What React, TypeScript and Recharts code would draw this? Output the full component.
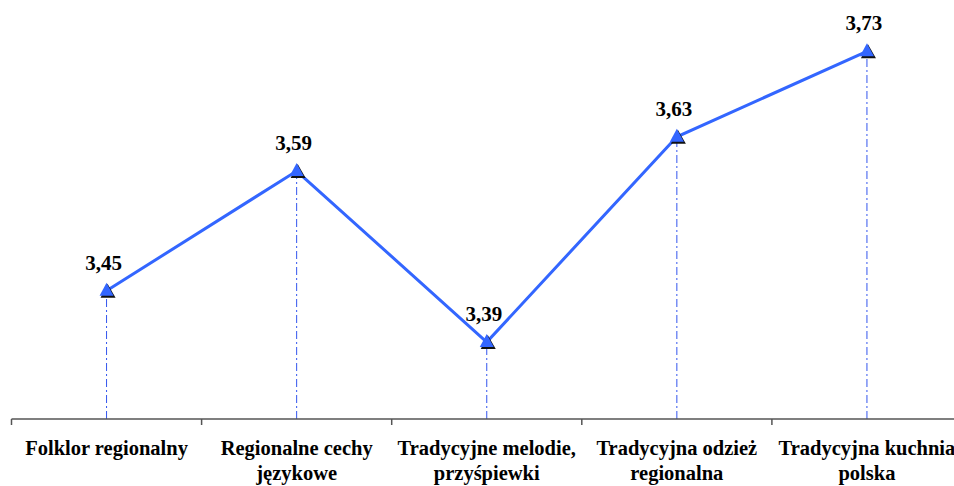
import React from 'react';
import { LineChart, Line, XAxis, YAxis, ReferenceLine, LabelList } from 'recharts';

const categories = [
  'Folklor regionalny',
  'Regionalne cechy\njęzykowe',
  'Tradycyjne melodie,\nprzyśpiewki',
  'Tradycyjna odzież\nregionalna',
  'Tradycyjna kuchnia\npolska',
];
const values = [3.45, 3.59, 3.39, 3.63, 3.73];
const boundaryTicks = [0, 0.5, 1, 1.5, 2, 2.5, 3, 3.5, 4, 4.5, 5];

const LINE_BLUE = '#3366FF';
const textStyle = { fontFamily: '"Liberation Serif", "Times New Roman", serif', fontWeight: 700 } as React.CSSProperties;

const data = categories.map((name, i) => ({ x: i + 0.5, name, value: values[i] }));

// axis ticks: short lines at category borders, labels at centers
const AxisTick: React.FC<any> = ({ x, y, payload }) => {
  const v = payload.value;
  if (Number.isInteger(v)) {
    return <line x1={x} y1={y} x2={x} y2={y + 6} stroke="#555" strokeWidth={1.5} />;
  }
  const label = categories[Math.floor(v)] || '';
  const lines = label.split('\n');
  return (
    <text x={x} y={y} textAnchor="middle" style={textStyle} fontSize={20.5} fill="#000">
      {lines.map((l, i) => (
        <tspan key={i} x={x} dy={i === 0 ? 36 : 25}>{l}</tspan>
      ))}
    </text>
  );
};

const TriangleDot: React.FC<any> = ({ cx, cy }) => {
  if (cx == null || cy == null) return null;
  return (
    <g>
      <polygon points={`${cx + 1},${cy - 7} ${cx + 9},${cy + 7} ${cx - 6},${cy + 7}`} fill="#111" />
      <polygon points={`${cx},${cy - 8} ${cx + 7},${cy + 5} ${cx - 7},${cy + 5}`} fill={LINE_BLUE} />
    </g>
  );
};

const ValueLabel: React.FC<any> = ({ x, y, value }) => (
  <text x={x - 3} y={y - 21} textAnchor="middle" style={textStyle} fontSize={21} fill="#000">
    {Number(value).toFixed(2).replace('.', ',')}
  </text>
);

export default function App() {
  return (
    <div style={{ position: 'fixed', left: 0, top: 0, width: 954, height: 486, overflow: 'hidden', background: '#fff' }}>
      <LineChart width={962} height={486} data={data} margin={{ top: 0, right: 0, left: 11.5, bottom: 0 }}>
        <XAxis
          type="number"
          dataKey="x"
          domain={[0, 5]}
          ticks={boundaryTicks}
          interval={0}
          tickLine={false}
          tickSize={0}
          tickMargin={0}
          axisLine={{ stroke: '#555', strokeWidth: 1.5 }}
          tick={<AxisTick />}
          height={67}
        />
        <YAxis hide domain={[3.3, 3.79]} />
        {data.map((d) => (
          <ReferenceLine
            key={d.name}
            segment={[{ x: d.x, y: 3.3 }, { x: d.x, y: d.value }]}
            stroke="#3355EE"
            strokeWidth={1}
            strokeDasharray="8 3 2 3"
          />
        ))}
        <Line
          type="linear"
          dataKey="value"
          stroke={LINE_BLUE}
          strokeWidth={3}
          dot={<TriangleDot />}
          activeDot={false}
          isAnimationActive={false}
        >
          <LabelList dataKey="value" content={<ValueLabel />} />
        </Line>
      </LineChart>
    </div>
  );
}
